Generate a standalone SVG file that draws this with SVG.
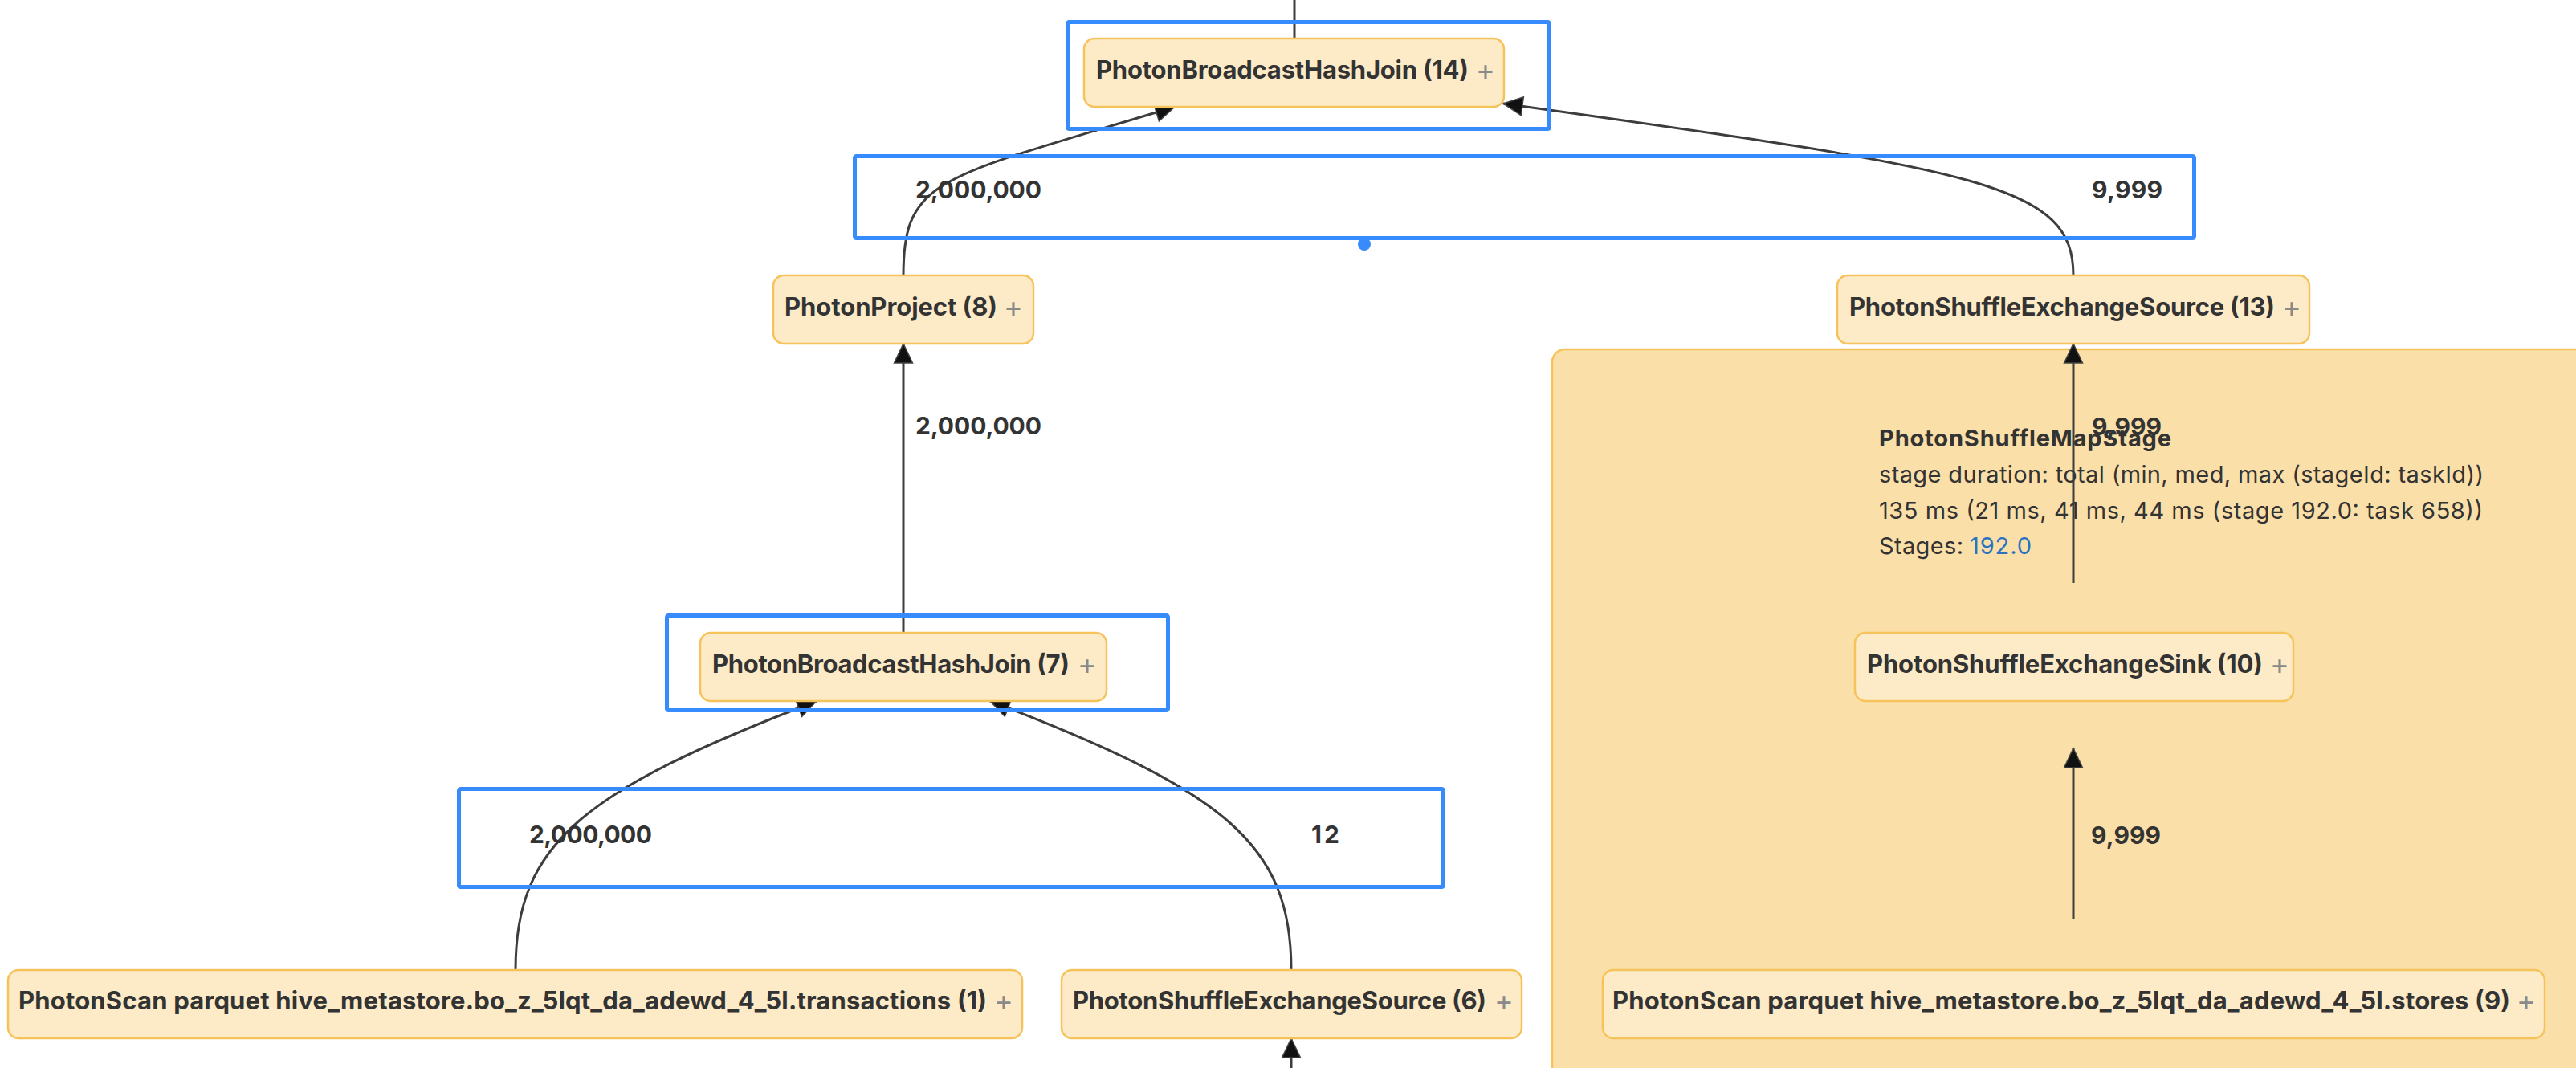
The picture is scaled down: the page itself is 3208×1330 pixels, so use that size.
<svg xmlns="http://www.w3.org/2000/svg" width="3208" height="1330" viewBox="0 0 3208 1330">
<defs>
<marker id="arr" markerUnits="userSpaceOnUse" markerWidth="28" markerHeight="28" refX="24" refY="11.5" orient="auto" viewBox="-2 -2 28 27">
<path d="M0,0 L24,11.5 L0,23 Z" fill="#111" stroke="#444" stroke-width="1.5"/>
</marker>
<style>
.node rect{fill:#FDEBC8;stroke:#F6C35B;stroke-width:2.5}
.lbl{font-family:Inter,"Liberation Sans",sans-serif;font-size:31px;font-weight:700;fill:#333}
.plus{font-family:Inter,"Liberation Sans",sans-serif;font-size:36px;font-weight:400;fill:#8a8a8a}
.edge{fill:none;stroke:#3d3d3d;stroke-width:3}
.elbl{font-family:Inter,"Liberation Sans",sans-serif;font-size:30px;font-weight:700;fill:#333}
.st{font-family:Inter,"Liberation Sans",sans-serif;font-size:29px;font-weight:400;fill:#333}
.hl{fill:none;stroke:#388BFD;stroke-width:5}
</style>
</defs>
<rect width="3208" height="1330" fill="#fff"/>
<g id="stage">
<rect x="1933" y="435" width="1320" height="960" rx="16" fill="#FADFA8" stroke="#F6C35B" stroke-width="2.5"/>
<text class="st" x="2340" y="556" style="font-weight:700" textLength="364">PhotonShuffleMapStage</text>
<text class="st" x="2340" y="601" textLength="753">stage duration: total (min, med, max (stageId: taskId))</text>
<text class="st" x="2340" y="646" textLength="752">135 ms (21 ms, 41 ms, 44 ms (stage 192.0: task 658))</text>
<text class="st" x="2340" y="690"><tspan textLength="105">Stages:</tspan><tspan x="2453" fill="#2B72C2" textLength="77">192.0</tspan></text>
</g>
<g id="connectors">
<path class="edge" d="M1612,0 V48"/>
<path class="edge" d="M1125,343 C1125,220 1170,222 1463,133" marker-end="url(#arr)"/>
<path class="edge" d="M2582,343 C2582,230 2470,212 1872,129" marker-end="url(#arr)"/>
<path class="edge" d="M2582,726 V428" marker-end="url(#arr)"/>
<path class="edge" d="M1125,788 V428" marker-end="url(#arr)"/>
<path class="edge" d="M642,1208 C642,1050 725,985 1017,873" marker-end="url(#arr)"/>
<path class="edge" d="M1608,1208 C1608,1050 1525,985 1233,873" marker-end="url(#arr)"/>
<path class="edge" d="M2582,1145 V932" marker-end="url(#arr)"/>
<path class="edge" d="M1608,1332 V1293" marker-end="url(#arr)"/>
<text class="elbl" x="1140" y="247" textLength="157">2,000,000</text>
<text class="elbl" x="2605" y="247" textLength="88">9,999</text>
<text class="elbl" x="1140" y="541" textLength="157">2,000,000</text>
<text class="elbl" x="2605" y="542" textLength="87">9,999</text>
<text class="elbl" x="659" y="1050" textLength="153">2,000,000</text>
<text class="elbl" x="1633" y="1050" textLength="35">12</text>
<text class="elbl" x="2604" y="1051" textLength="87">9,999</text>
</g>
<g id="n14" class="node"><rect x="1350" y="48" width="523" height="85" rx="13"/><text class="lbl" x="1365" y="98" textLength="464">PhotonBroadcastHashJoin (14)</text><text class="plus" x="1838" y="100">+</text></g>
<g id="n8" class="node"><rect x="963" y="343" width="324" height="85" rx="13"/><text class="lbl" x="977" y="393" textLength="265">PhotonProject (8)</text><text class="plus" x="1250" y="395">+</text></g>
<g id="n13" class="node"><rect x="2288" y="343" width="588" height="85" rx="13"/><text class="lbl" x="2303" y="393" textLength="530">PhotonShuffleExchangeSource (13)</text><text class="plus" x="2842" y="395">+</text></g>
<g id="n10" class="node"><rect x="2310" y="788" width="546" height="85" rx="13"/><text class="lbl" x="2325" y="838" textLength="493">PhotonShuffleExchangeSink (10)</text><text class="plus" x="2827" y="840">+</text></g>
<g id="n7" class="node"><rect x="872" y="788" width="506" height="85" rx="13"/><text class="lbl" x="887" y="838" textLength="445">PhotonBroadcastHashJoin (7)</text><text class="plus" x="1342" y="840">+</text></g>
<g id="n1" class="node"><rect x="10" y="1208" width="1263" height="85" rx="13"/><text class="lbl" x="23" y="1257" textLength="1206">PhotonScan parquet hive_metastore.bo_z_5lqt_da_adewd_4_5l.transactions (1)</text><text class="plus" x="1238" y="1259">+</text></g>
<g id="n6" class="node"><rect x="1322" y="1208" width="573" height="85" rx="13"/><text class="lbl" x="1336" y="1257" textLength="515">PhotonShuffleExchangeSource (6)</text><text class="plus" x="1861" y="1259">+</text></g>
<g id="n9" class="node"><rect x="1996" y="1208" width="1173" height="85" rx="13"/><text class="lbl" x="2008" y="1257" textLength="1118">PhotonScan parquet hive_metastore.bo_z_5lqt_da_adewd_4_5l.stores (9)</text><text class="plus" x="3134" y="1259">+</text></g>
<g id="highlights">
<rect class="hl" x="1329.5" y="27.5" width="600" height="133" rx="2"/>
<rect class="hl" x="1064.5" y="194.5" width="1668" height="102" rx="2"/>
<circle cx="1699" cy="304" r="8" fill="#388BFD"/>
<rect class="hl" x="830.5" y="766.5" width="624" height="118" rx="2"/>
<rect class="hl" x="571.5" y="982.5" width="1226" height="122" rx="2"/>
</g>
</svg>
